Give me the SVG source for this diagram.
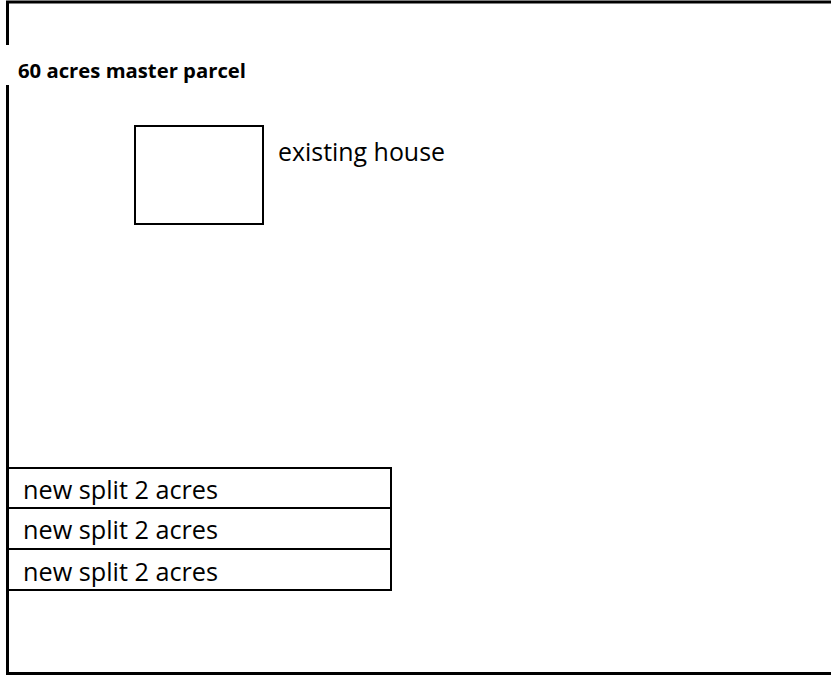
<svg xmlns="http://www.w3.org/2000/svg" width="831" height="675" viewBox="0 0 831 675">
<style>
.ln{stroke:#000;stroke-width:3;fill:none}
.bx{stroke:#000;stroke-width:2;fill:#fff}
.t{font-family:"Open Sans","Liberation Sans",sans-serif;font-size:25px;fill:#000}
.b{font-family:"Open Sans","Liberation Sans",sans-serif;font-size:19px;font-weight:bold;fill:#000}
</style>
<rect width="831" height="675" fill="#fff"/>
<g id="parcel">
<path class="ln" d="M7.5 45 V2 H835 M7.5 85 V673.5 H835"/>
<text class="b" x="18" y="77.5" textLength="228" lengthAdjust="spacingAndGlyphs">60 acres master parcel</text>
</g>
<g id="house">
<rect class="bx" x="135" y="126" width="128" height="98"/>
<text class="t" x="278" y="161" textLength="167" lengthAdjust="spacingAndGlyphs">existing house</text>
</g>
<g id="split1">
<rect class="bx" x="8" y="468" width="383" height="40"/>
<text class="t" x="23" y="499" textLength="195" lengthAdjust="spacingAndGlyphs">new split 2 acres</text>
</g>
<g id="split2">
<rect class="bx" x="8" y="508" width="383" height="41"/>
<text class="t" x="23" y="539" textLength="195" lengthAdjust="spacingAndGlyphs">new split 2 acres</text>
</g>
<g id="split3">
<rect class="bx" x="8" y="549" width="383" height="41"/>
<text class="t" x="23" y="581" textLength="195" lengthAdjust="spacingAndGlyphs">new split 2 acres</text>
</g>
<g id="connectors"></g>
</svg>
